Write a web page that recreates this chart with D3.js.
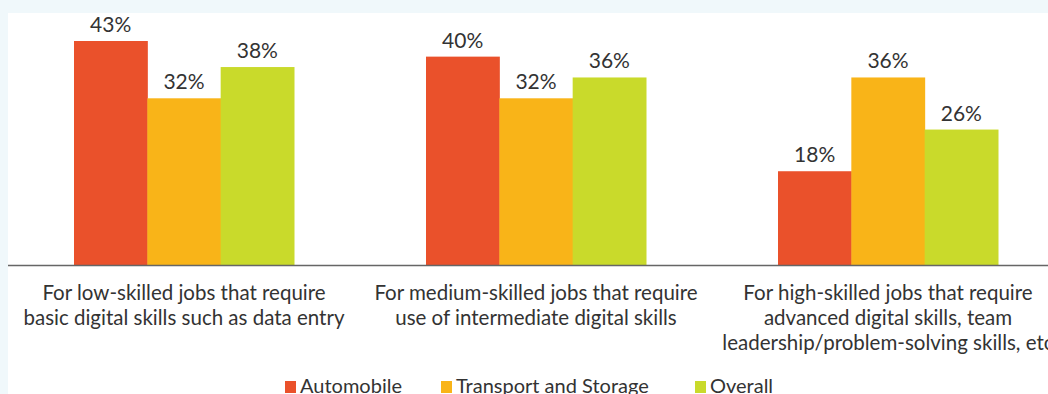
<!DOCTYPE html>
<html>
<head>
<meta charset="utf-8">
<title>Digital skills by job level</title>
<script src="https://d3js.org/d3.v7.min.js"></script>
<style>
  body { margin: 0; background: #f0f8fb; }
  svg { display: block; font-family: Lato, "Open Sans", sans-serif; }
</style>
</head>
<body>
<svg id="chart"></svg>
<script>
const categories = [
  ['For low-skilled jobs that require', 'basic digital skills such as data entry'],
  ['For medium-skilled jobs that require', 'use of intermediate digital skills'],
  ['For high-skilled jobs that require', 'advanced digital skills, team', 'leadership/problem-solving skills, etc']
];
const seriesNames = ['Automobile', 'Transport and Storage', 'Overall'];
const automobile = [43, 40, 18];
const transport = [32, 32, 36];
const overall = [38, 36, 26];
const colors = ['#ea512b', '#f9b418', '#c9da2b'];

const W = 1048, H = 394;
const baseY = 265;

const svg = d3.select('#chart').attr('width', W).attr('height', H);

// white panel
svg.append('rect')
  .attr('x', 8).attr('y', 13)
  .attr('width', W - 8).attr('height', H - 13)
  .style('fill', '#fff');

const series = [automobile, transport, overall];
const rows = categories.map((c, i) => ({
  idx: i,
  vals: series.map((s, j) => ({ key: seriesNames[j], v: s[i], c: colors[j] }))
}));

const x0 = d3.scaleBand()
  .domain(d3.range(categories.length))
  .range([8, 1064])
  .paddingInner(0.375)
  .paddingOuter(0.1875);

const x1 = d3.scaleBand()
  .domain(seriesNames)
  .range([0, x0.bandwidth()]);

const y = d3.scaleLinear().domain([0, 43]).range([baseY, 41]);

const g = svg.selectAll('.grp')
  .data(rows)
  .join('g')
  .attr('class', 'grp')
  .attr('transform', d => `translate(${x0(d.idx)},0)`);

g.selectAll('rect')
  .data(d => d.vals)
  .join('rect')
  .attr('x', d => x1(d.key))
  .attr('y', d => y(d.v))
  .attr('width', x1.bandwidth() + 0.5)
  .attr('height', d => baseY - y(d.v))
  .style('fill', d => d.c);

g.selectAll('text.val')
  .data(d => d.vals)
  .join('text')
  .attr('class', 'val')
  .attr('x', d => x1(d.key) + x1.bandwidth() / 2)
  .attr('y', d => y(d.v) - 9)
  .attr('text-anchor', 'middle')
  .style('font-size', '21px')
  .style('fill', '#333')
  .text(d => d.v + '%');

// axis line
svg.append('line')
  .attr('x1', 8).attr('x2', W)
  .attr('y1', baseY + 0.5).attr('y2', baseY + 0.5)
  .style('stroke', '#666')
  .style('stroke-width', 1.6);

// category labels
svg.selectAll('text.cat')
  .data(rows)
  .join('text')
  .attr('class', 'cat')
  .attr('text-anchor', 'middle')
  .style('font-size', '20.5px')
  .style('fill', '#333')
  .each(function(d) {
    const t = d3.select(this);
    const cx = x0(d.idx) + x0.bandwidth() / 2;
    categories[d.idx].forEach((line, k) => {
      t.append('tspan').attr('x', cx).attr('y', 300 + k * 25).text(line);
    });
  });

// legend
const legX = [285, 441, 695];
const leg = svg.selectAll('.leg')
  .data(seriesNames)
  .join('g')
  .attr('class', 'leg')
  .attr('transform', (d, i) => `translate(${legX[i]},381)`);
leg.append('rect')
  .attr('width', 11).attr('height', 12)
  .style('fill', (d, i) => colors[i]);
leg.append('text')
  .attr('x', 15).attr('y', 12)
  .style('font-size', '20px')
  .style('fill', '#333')
  .text(d => d);
</script>
</body>
</html>
